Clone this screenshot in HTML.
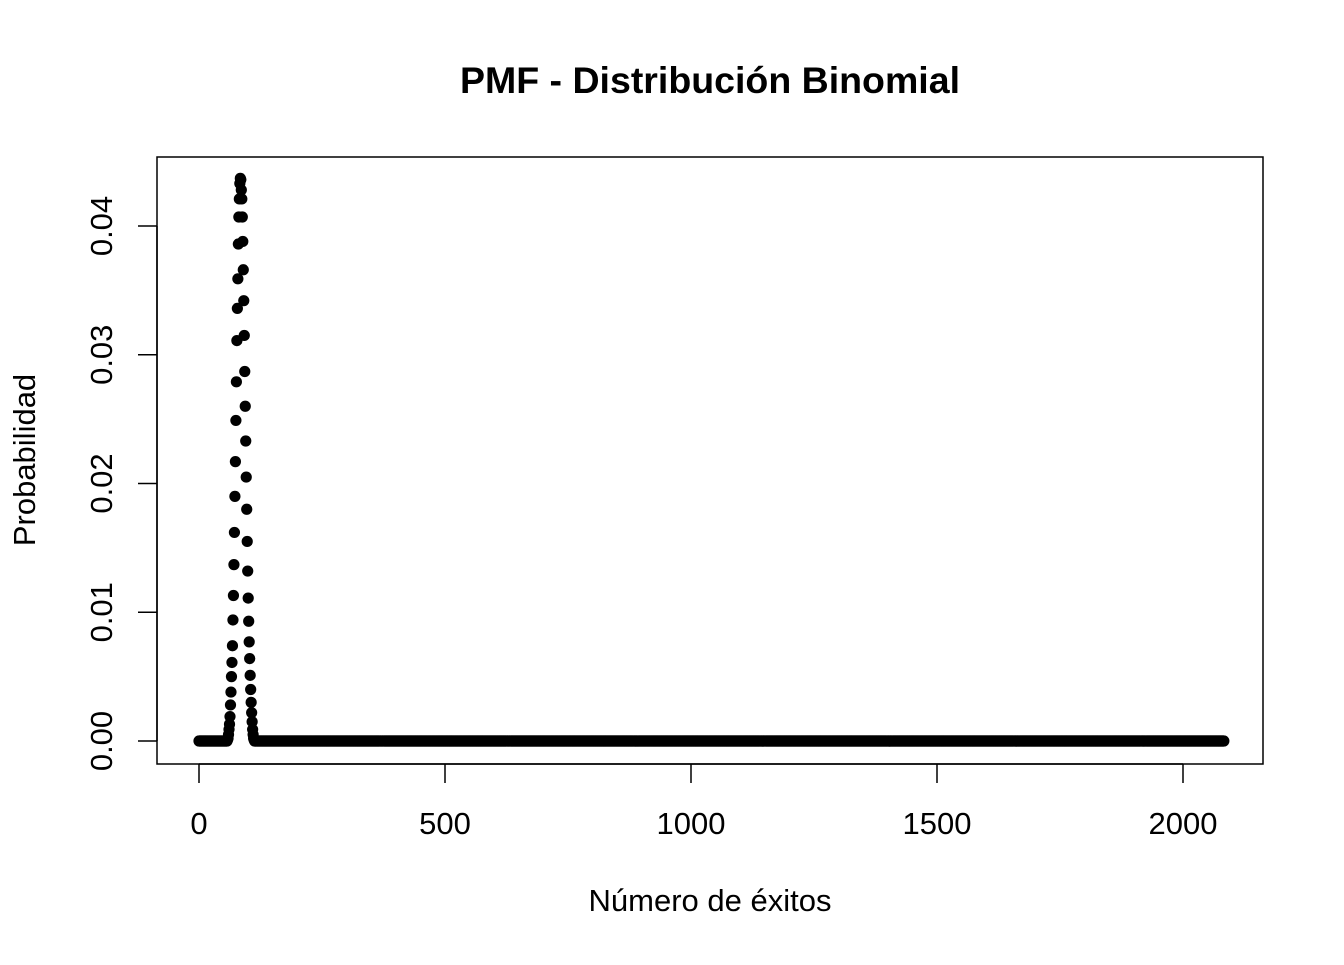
<!DOCTYPE html>
<html><head><meta charset="utf-8"><style>
body{margin:0;background:#fff;}
svg text{font-family:"Liberation Sans",Arial,sans-serif;fill:#000;}
</style></head><body>
<svg id="chart" width="1344" height="960" xmlns="http://www.w3.org/2000/svg">
<rect width="1344" height="960" fill="#fff"/>
<text x="710" y="93" font-size="37.5" font-weight="bold" text-anchor="middle">PMF - Distribución Binomial</text>
<rect x="157" y="157" width="1106" height="607" fill="none" stroke="#000" stroke-width="1.5"/>
<g id="xaxis"></g>
<g id="yaxis"></g>
<text x="710" y="911" font-size="31" text-anchor="middle">Número de éxitos</text>
<text transform="translate(35,460) rotate(-90)" font-size="31" text-anchor="middle">Probabilidad</text>
<g id="points"></g>
</svg>
<script>
const xTicks=[0,500,1000,1500,2000];
const yTicks=[0,0.01,0.02,0.03,0.04];
const yTickLabels=["0.00","0.01","0.02","0.03","0.04"];
const nTrials=2083;
const peakStart=58;
const peakProbs=[0.0001,0.0002,0.0005,0.0009,0.0013,0.0019,0.0028,0.0038,0.0050,0.0061,0.0074,0.0094,0.0113,0.0137,0.0162,0.0190,0.0217,0.0249,0.0279,0.0311,0.0336,0.0359,0.0386,0.0407,0.0421,0.0433,0.0437,
0.0436,0.0428,0.0421,0.0407,0.0388,0.0366,0.0342,0.0315,0.0287,0.0260,0.0233,0.0205,0.0180,0.0155,0.0132,0.0111,0.0093,0.0077,0.0064,0.0051,0.0040,0.0030,0.0022,0.0015,0.0009,0.0005,0.0002,0.0001];
const ns="http://www.w3.org/2000/svg";
const sx=v=>199+v*(1183-199)/2000;
const sy=v=>741-v*(741-226)/0.04;
function mk(t,a,p){const e=document.createElementNS(ns,t);for(const k in a)e.setAttribute(k,a[k]);p.appendChild(e);return e;}
const xa=document.getElementById('xaxis');
mk('line',{x1:sx(xTicks[0]),x2:sx(xTicks[xTicks.length-1]),y1:764,y2:764,stroke:'#000','stroke-width':1.5},xa);
xTicks.forEach(t=>{
 const l=mk('line',{x1:sx(t),x2:sx(t),y1:764,y2:783,stroke:'#000','stroke-width':1.5},xa);
 
 
 const tx=mk('text',{x:sx(t),y:834,'font-size':31,'text-anchor':'middle'},xa);tx.textContent=t;
 
 
});
const ya=document.getElementById('yaxis');
mk('line',{x1:157,x2:157,y1:sy(yTicks[0]),y2:sy(yTicks[yTicks.length-1]),stroke:'#000','stroke-width':1.5},ya);
yTicks.forEach((t,i)=>{
 const l=mk('line',{x1:138,x2:157,y1:sy(t),y2:sy(t),stroke:'#000','stroke-width':1.5},ya);
 
 
 const tx=mk('text',{transform:`translate(112,${sy(t)}) rotate(-90)`,'font-size':31,'text-anchor':'middle'},ya);tx.textContent=yTickLabels[i];
 
 
});
const pg=document.getElementById('points');
for(let k=0;k<=nTrials;k++){
 const idx=k-peakStart;
 const p=(idx>=0&&idx<peakProbs.length)?peakProbs[idx]:0;
 const c=mk('circle',{cx:sx(k),cy:sy(p),r:5.6,fill:'#000'},pg);
 
 
}
</script>
</body></html>
